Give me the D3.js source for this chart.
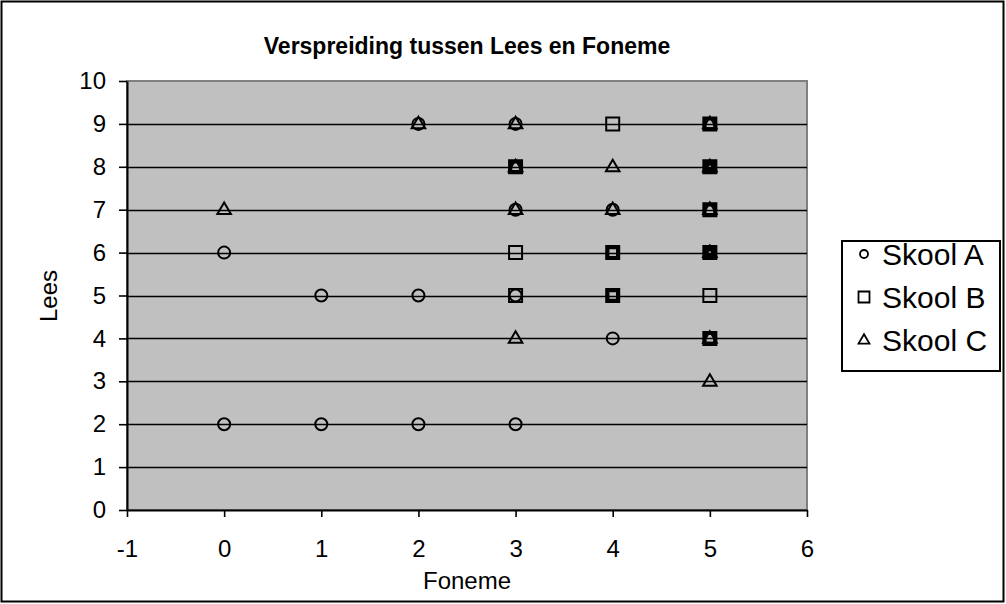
<!DOCTYPE html>
<html>
<head>
<meta charset="utf-8">
<script src="https://cdn.jsdelivr.net/npm/d3@7"></script>
<style>
  body { margin: 0; background: #fff; }
  text { font-family: "Liberation Sans", Arial, sans-serif; fill: #000; }
</style>
</head>
<body>
<svg width="1006" height="604"></svg>
<script>
// data (duplicates kept where markers overlap)
var seriesNames = ["Skool A", "Skool B", "Skool C"];
var skoolA_x = [0, 1, 2, 0, 1, 2, 3, 2, 3, 3, 4, 4, 3, 4, 4, 5, 5, 5];
var skoolA_y = [6, 5, 5, 2, 2, 2, 2, 9, 9, 7, 7, 4, 5, 5, 6, 8, 6, 4];
var skoolB_x = [4, 5, 5, 3, 5, 5, 5, 5, 5, 3, 4, 4, 5, 5, 5, 3, 4, 4, 5, 5, 5, 3];
var skoolB_y = [9, 9, 9, 8, 8, 8, 8, 7, 7, 6, 6, 6, 6, 6, 6, 5, 5, 5, 5, 4, 4, 8];
var skoolC_x = [0, 2, 3, 5, 3, 4, 5, 3, 4, 5, 5, 3, 5, 5];
var skoolC_y = [7, 9, 9, 9, 8, 8, 8, 7, 7, 7, 6, 4, 3, 4];
var xTicks = [-1, 0, 1, 2, 3, 4, 5, 6];
var yTicks = [0, 1, 2, 3, 4, 5, 6, 7, 8, 9, 10];

var pArea = [127, 81, 807, 510]; // left, top, right, bottom

var svg = d3.select("svg");

// outer frame
svg.append("rect")
  .attr("x", 1.5).attr("y", 1.5)
  .attr("width", 1002).attr("height", 600)
  .attr("fill", "#fff").attr("stroke", "#000").attr("stroke-width", 2);

var xScale = d3.scaleLinear().domain([-1, 6]).range([pArea[0], pArea[2]]);
var yScale = d3.scaleLinear().domain([0, 10]).range([pArea[3], pArea[1]]);

// plot background
svg.append("rect")
  .attr("x", pArea[0]).attr("y", pArea[1])
  .attr("width", pArea[2] - pArea[0]).attr("height", pArea[3] - pArea[1])
  .attr("fill", "#c0c0c0").attr("stroke", "#808080").attr("stroke-width", 2);

// gridlines
svg.append("g")
  .selectAll("line")
  .data(yTicks.filter(d => d > 0 && d < 10))
  .enter().append("line")
  .attr("x1", pArea[0]).attr("x2", pArea[2])
  .attr("y1", d => Math.round(yScale(d)) + 0.5)
  .attr("y2", d => Math.round(yScale(d)) + 0.5)
  .attr("stroke", "#000").attr("stroke-width", 1.6);

// x-axis
var xAxis = svg.append("g")
  .attr("transform", `translate(0,${pArea[3]})`)
  .call(d3.axisBottom(xScale).tickValues(xTicks).tickFormat(d => String(d))
    .tickSize(7).tickSizeOuter(0).tickPadding(23));
xAxis.selectAll("text").style("font-size", "24px").attr("font-family", null);
xAxis.select(".domain").attr("stroke-width", 2);
xAxis.selectAll(".tick line").attr("stroke-width", 1.6);

// y-axis
var yAxis = svg.append("g")
  .attr("transform", `translate(${pArea[0]},0)`)
  .call(d3.axisLeft(yScale).tickValues(yTicks).tickFormat(d => String(d))
    .tickSize(8).tickSizeOuter(0).tickPadding(13));
yAxis.selectAll("text").style("font-size", "24px").attr("font-family", null);
yAxis.select(".domain").attr("stroke-width", 2);
yAxis.selectAll(".tick line").attr("stroke-width", 1.6);

// titles
svg.append("text")
  .attr("x", 467).attr("y", 54)
  .attr("text-anchor", "middle")
  .style("font-size", "23px").style("font-weight", "bold")
  .text("Verspreiding tussen Lees en Foneme");

svg.append("text")
  .attr("x", 467).attr("y", 589)
  .attr("text-anchor", "middle")
  .style("font-size", "24px")
  .text("Foneme");

svg.append("text")
  .attr("transform", "rotate(-90)")
  .attr("x", -296).attr("y", 57)
  .attr("text-anchor", "middle")
  .style("font-size", "24px")
  .text("Lees");

// marker shapes
function markerPath(kind, size) {
  if (kind === 0) return d3.symbol(d3.symbolCircle, Math.PI * size * size)();
  if (kind === 1) return "M" + (-size) + "," + (-size) + "h" + (2 * size) + "v" + (2 * size) + "h" + (-2 * size) + "Z";
  var h = size * 1.7;
  return "M0," + (-h * 0.62) + "L" + (size) + "," + (h * 0.38) + "L" + (-size) + "," + (h * 0.38) + "Z";
}

function group(xs, ys) {
  var m = d3.rollup(d3.range(xs.length), v => v.length, i => xs[i] + "," + ys[i]);
  return Array.from(m, ([k, n]) => ({ x: +k.split(",")[0], y: +k.split(",")[1], n: n }));
}

var series = [
  group(skoolA_x, skoolA_y),
  group(skoolB_x, skoolB_y),
  group(skoolC_x, skoolC_y)
];
var baseSize = [6, 6.5, 6.8];

series.forEach(function(pts, s) {
  svg.append("g").selectAll("path")
    .data(pts)
    .enter().append("path")
    .attr("transform", d => `translate(${xScale(d.x)},${yScale(d.y)})`)
    .attr("d", d => {
      // repeated points thicken the mark inward
      var sw = Math.min(2 + (d.n - 1) * 2.2, 6.5);
      return markerPath(s, baseSize[s] - (sw - 2) / 2);
    })
    .attr("fill", "none")
    .attr("stroke", "#000")
    .attr("stroke-width", d => Math.min(2 + (d.n - 1) * 2.2, 6.5));
});

// legend
var legend = svg.append("g");
legend.append("rect")
  .attr("x", 842).attr("y", 241)
  .attr("width", 158).attr("height", 130)
  .attr("fill", "#fff").attr("stroke", "#000").attr("stroke-width", 2);

var legendY = [254, 297, 340];
seriesNames.forEach(function(name, i) {
  legend.append("path")
    .attr("transform", `translate(864,${legendY[i]})`)
    .attr("d", markerPath(i, i === 0 ? 4 : 5.5))
    .attr("fill", "none").attr("stroke", "#000").attr("stroke-width", 1.8);
  legend.append("text")
    .attr("x", 882).attr("y", legendY[i] + 11)
    .style("font-size", "30px")
    .text(name);
});
</script>
</body>
</html>
